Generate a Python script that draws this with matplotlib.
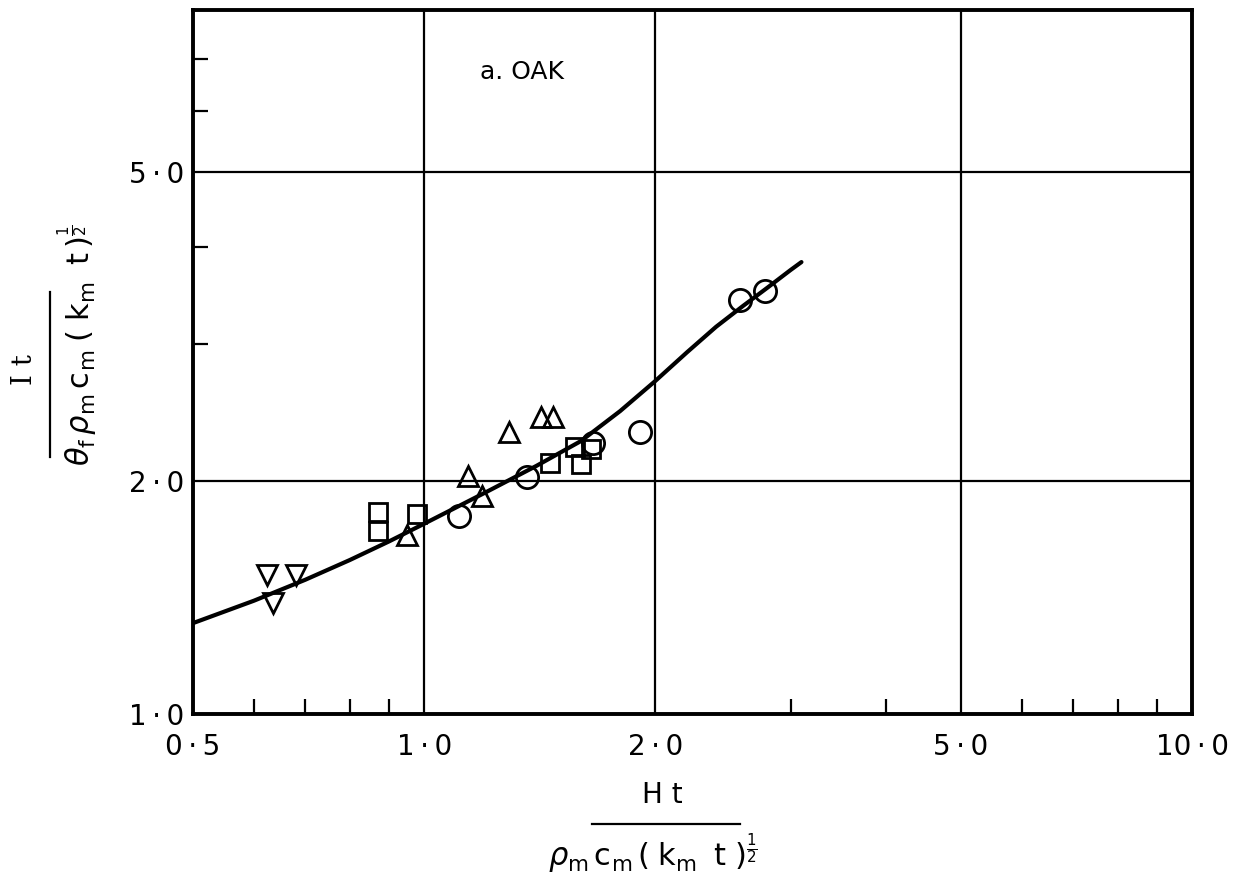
import numpy as np
import matplotlib.pyplot as plt
from matplotlib.lines import Line2D
from matplotlib.ticker import FixedLocator, FixedFormatter, NullFormatter

plt.rcParams['font.family'] = ['DejaVu Sans']
plt.rcParams['mathtext.fontset'] = 'dejavusans'

# correlation curve, read along its length
curve_x = [0.5, 0.6, 0.7, 0.8, 0.9, 1.0, 1.2, 1.4, 1.6, 1.8, 2.0, 2.2, 2.4, 2.6, 2.8, 3.0, 3.1]
curve_y = [1.31, 1.40, 1.49, 1.58, 1.67, 1.76, 1.93, 2.09, 2.25, 2.46, 2.69, 2.93, 3.16, 3.36, 3.55, 3.74, 3.83]

# experimental points, one list per symbol
circle_x = [1.11, 1.36, 1.66, 1.91, 2.58, 2.78]
circle_y = [1.80, 2.02, 2.24, 2.31, 3.42, 3.51]
square_x = [0.87, 0.87, 0.98, 1.46, 1.57, 1.60, 1.65]
square_y = [1.82, 1.72, 1.81, 2.11, 2.21, 2.10, 2.20]
up_x = [0.95, 1.14, 1.19, 1.29, 1.42, 1.47]
up_y = [1.70, 2.03, 1.91, 2.31, 2.42, 2.42]
down_x = [0.625, 0.68, 0.635]
down_y = [1.51, 1.51, 1.39]

ts = '\u2009'
x_ticks = [0.5, 1.0, 2.0, 5.0, 10.0]
x_labels = ['0' + ts + '·' + ts + '5', '1' + ts + '·' + ts + '0', '2' + ts + '·' + ts + '0',
            '5' + ts + '·' + ts + '0', '10' + ts + '·' + ts + '0']
x_minor = [0.6, 0.7, 0.8, 0.9, 3, 4, 6, 7, 8, 9]
y_ticks = [1.0, 2.0, 5.0]
y_labels = ['1' + ts + '·' + ts + '0', '2' + ts + '·' + ts + '0', '5' + ts + '·' + ts + '0']
y_minor = [3, 4, 6, 7]

W, H = 1245, 881
fig = plt.figure(figsize=(W / 100, H / 100), dpi=100)
ax = fig.add_axes([193 / W, 1 - 714 / H, 999 / W, 704 / H])
ax.set_xscale('log')
ax.set_yscale('log')
ax.set_xlim(0.5, 10.0)
ax.set_ylim(1.0, 8.1)

ax.plot(curve_x, curve_y, color='black', lw=3, solid_capstyle='round', zorder=3)
mk = dict(linestyle='none', markerfacecolor='none', markeredgecolor='black',
          markeredgewidth=2, zorder=4)
ax.plot(circle_x, circle_y, marker='o', markersize=16, **mk)
ax.plot(square_x, square_y, marker='s', markersize=13, **mk)
ax.plot(up_x, up_y, marker='^', markersize=15, **mk)
ax.plot(down_x, down_y, marker='v', markersize=15, **mk)

ax.xaxis.set_major_locator(FixedLocator(x_ticks))
ax.xaxis.set_major_formatter(FixedFormatter(x_labels))
ax.xaxis.set_minor_locator(FixedLocator(x_minor))
ax.xaxis.set_minor_formatter(NullFormatter())
ax.yaxis.set_major_locator(FixedLocator(y_ticks))
ax.yaxis.set_major_formatter(FixedFormatter(y_labels))
ax.yaxis.set_minor_locator(FixedLocator(y_minor))
ax.yaxis.set_minor_formatter(NullFormatter())

ax.tick_params(which='major', length=0, labelsize=20)
ax.tick_params(axis='x', which='major', pad=14)
ax.tick_params(axis='y', which='major', pad=6)
ax.tick_params(which='minor', direction='in', length=11, width=1.6)

ax.grid(which='major', color='black', lw=1.6)
for s in ax.spines.values():
    s.set_linewidth(2.8)

ax.text(1.34, 6.73, 'a. OAK', fontsize=18, ha='center', va='center')

# x-axis group, drawn as numerator / bar / denominator
fig.text(662 / W, 1 - 795 / H, 'H t', fontsize=20, ha='center', va='center')
fig.add_artist(Line2D([592 / W, 740 / W], [1 - 824 / H] * 2, color='black', lw=1.6))
fig.text(653 / W, 1 - 854 / H,
         r'$\rho_{\mathrm{m}}\,\mathrm{c}_{\mathrm{m}}\,(\;\mathrm{k}_{\mathrm{m}}\;\;\mathrm{t}\;)^{\frac{1}{2}}$',
         fontsize=22, ha='center', va='center')

# y-axis group, same construction turned on its side
fig.text(25 / W, 1 - 370 / H, 'I t', family='DejaVu Serif', fontsize=20,
         ha='center', va='center', rotation=90)
fig.add_artist(Line2D([50 / W] * 2, [1 - 292 / H, 1 - 457 / H], color='black', lw=1.6))
fig.text(78 / W, 1 - 345 / H,
         r'$\theta_{\mathrm{f}}\,\rho_{\mathrm{m}}\,\mathrm{c}_{\mathrm{m}}\;(\;\mathrm{k}_{\mathrm{m}}\;\;\mathrm{t}\,)^{\frac{1}{2}}$',
         fontsize=22, ha='center', va='center', rotation=90)

fig.savefig('out.png', dpi=100)
